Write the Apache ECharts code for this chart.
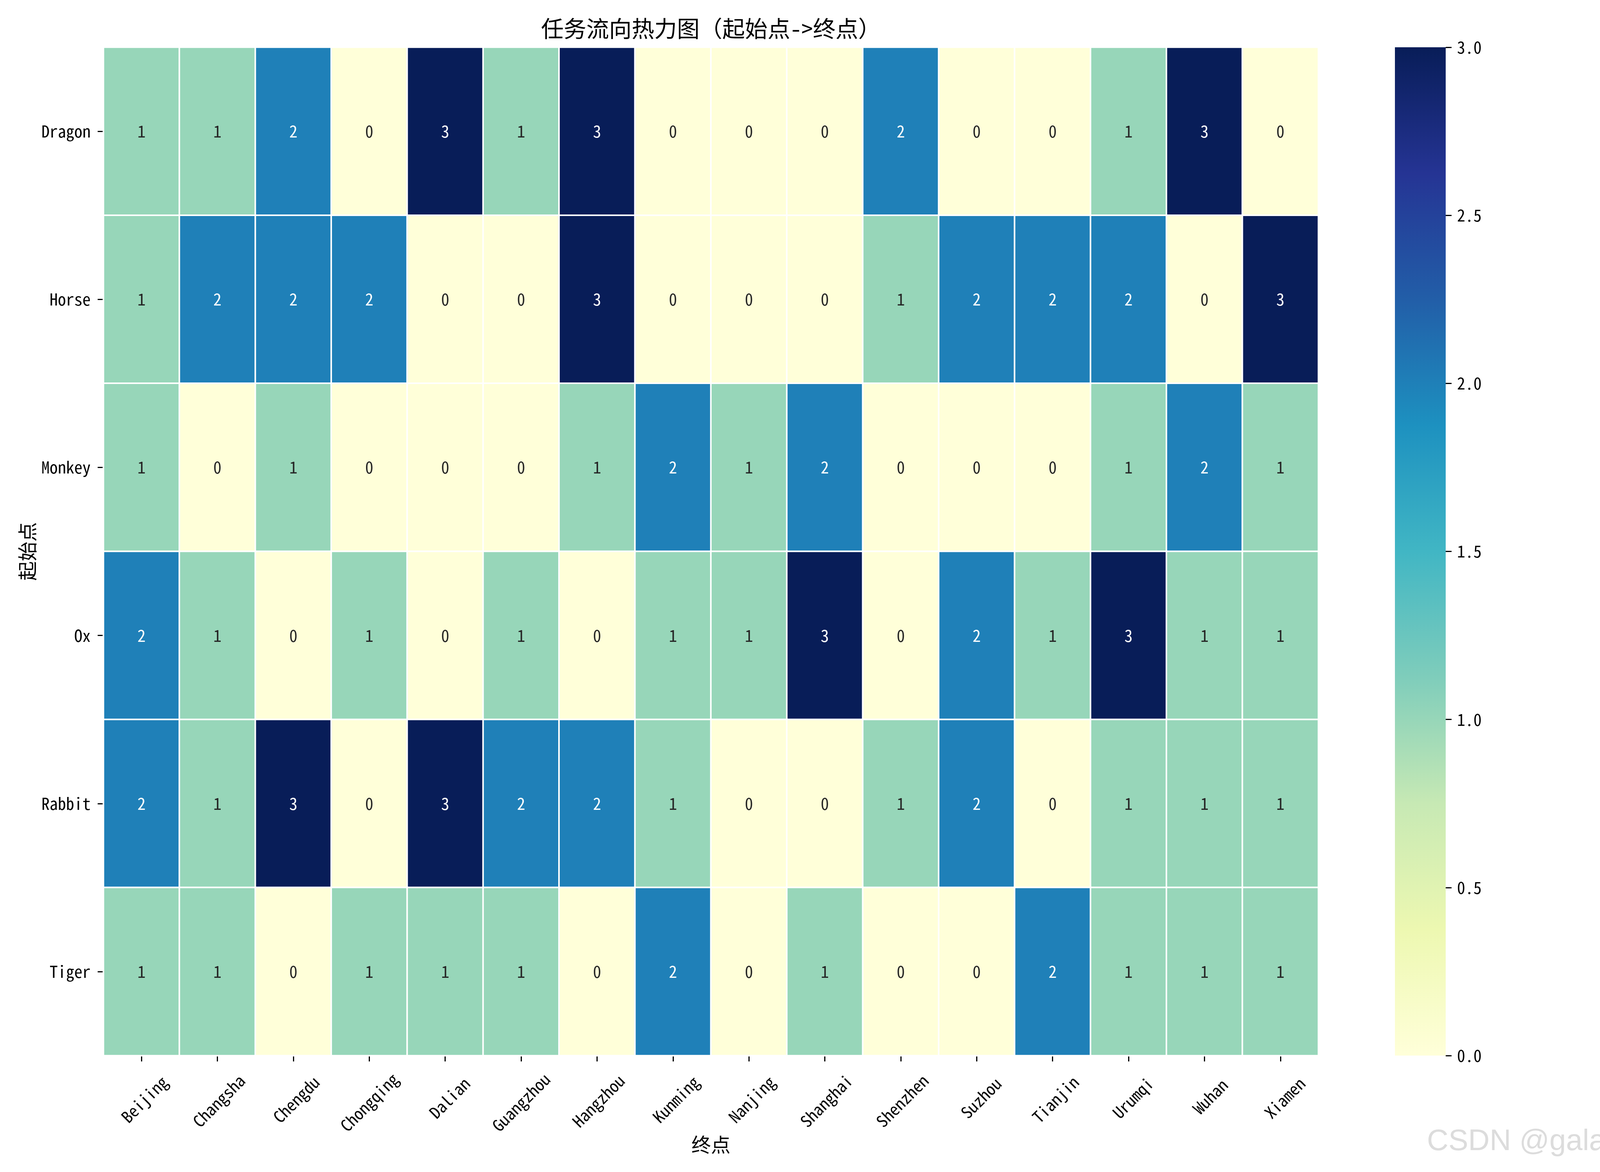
<!DOCTYPE html>
<html><head><meta charset="utf-8">
<script src="https://cdn.jsdelivr.net/npm/echarts@6/dist/echarts.min.js"></script>
<style>html,body{margin:0;padding:0;background:#fff}#c{width:4200px;height:3000px}</style>
</head><body><div id="c"></div>
<script>
// ---- data ----
const destinations = ['Beijing','Changsha','Chengdu','Chongqing','Dalian','Guangzhou','Hangzhou','Kunming','Nanjing','Shanghai','Shenzhen','Suzhou','Tianjin','Urumqi','Wuhan','Xiamen'];
const origins = ['Dragon','Horse','Monkey','Ox','Rabbit','Tiger'];
const rowDragon = [1,1,2,0,3,1,3,0,0,0,2,0,0,1,3,0];
const rowHorse  = [1,2,2,2,0,0,3,0,0,0,1,2,2,2,0,3];
const rowMonkey = [1,0,1,0,0,0,1,2,1,2,0,0,0,1,2,1];
const rowOx     = [2,1,0,1,0,1,0,1,1,3,0,2,1,3,1,1];
const rowRabbit = [2,1,3,0,3,2,2,1,0,0,1,2,0,1,1,1];
const rowTiger  = [1,1,0,1,1,1,0,2,0,1,0,0,2,1,1,1];
const rows = [rowDragon,rowHorse,rowMonkey,rowOx,rowRabbit,rowTiger];
const valueMin = 0, valueMax = 3;
const colorbarInterval = 0.5;
const ylgnbu = ['#ffffd9','#edf8b1','#c7e9b4','#7fcdbb','#41b6c4','#1d91c0','#225ea8','#253494','#081d58'];
const titleText = '任务流向热力图（起始点->终点）';
const xName = '终点';
const yName = '起始点';
const watermark = 'CSDN @galaxy';

// ---- layout / style ----
const FONT = '"Noto Sans Mono CJK SC", "Noto Sans CJK SC", sans-serif';
const G = {left:265, top:121, width:3110, height:2581};
const CB = {left:3571, top:121, width:130, height:2581};
const fs = 42;

const ctx = document.createElement('canvas').getContext('2d');
ctx.font = fs + 'px ' + FONT;
const widths = destinations.map(s => ctx.measureText(s).width);
const maxW = Math.max.apply(null, widths);
const labelTop = 2740;
const xMargin = labelTop + 0.35355 * (maxW + fs) - (G.top + G.height);

const heatData = [];
rows.forEach((row, r) => row.forEach((v, c) => {
  heatData.push({value:[c, r, v], label:{color: v > 1.5 ? '#ffffff' : '#262626'}});
}));

const chart = echarts.init(document.getElementById('c'), null, {renderer:'canvas', width:4200, height:3000, devicePixelRatio:1});
chart.setOption({
  backgroundColor:'#ffffff',
  animation:false,
  textStyle:{fontFamily:FONT},
  title:{
    text:titleText, left:(G.left + G.width/2), top:44, textAlign:'center', padding:0,
    textStyle:{fontSize:58, fontWeight:'normal', color:'#000', fontFamily:FONT, lineHeight:58}
  },
  grid:[
    {left:G.left, top:G.top, width:G.width, height:G.height},
    {left:CB.left, top:CB.top, width:CB.width, height:CB.height}
  ],
  xAxis:[
    {
      type:'category', gridIndex:0,
      data: destinations.map((name, i) => {
        const p = 0.5 * (maxW - widths[i]);
        return {value:name, textStyle:{align:'center', verticalAlign:'middle', padding:[0,0,p,p],
          fontSize:fs, color:'#000', fontFamily:FONT}};
      }),
      boundaryGap:true,
      axisLine:{show:false},
      axisTick:{show:true, alignWithLabel:true, length:15, lineStyle:{color:'#000', width:3}},
      axisLabel:{interval:0, rotate:45, align:'center', verticalAlign:'middle', margin:xMargin, fontSize:fs, color:'#000', fontFamily:FONT},
      splitLine:{show:false},
      name:xName, nameLocation:'middle', nameGap:228, nameMoveOverlap:false,
      nameTextStyle:{fontSize:50, color:'#000', fontFamily:FONT, verticalAlign:'middle', align:'center'}
    },
    {type:'category', gridIndex:1, data:[''], show:false, boundaryGap:true}
  ],
  yAxis:[
    {
      type:'category', gridIndex:0, data:origins, inverse:true, boundaryGap:true,
      axisLine:{show:false},
      axisTick:{show:true, alignWithLabel:true, length:15, lineStyle:{color:'#000', width:3}},
      axisLabel:{interval:0, margin:33, fontSize:fs, color:'#000', fontFamily:FONT},
      splitLine:{show:false},
      name:yName, nameLocation:'middle', nameGap:195, nameMoveOverlap:false,
      nameTextStyle:{fontSize:50, color:'#000', fontFamily:FONT, verticalAlign:'middle', align:'center'}
    },
    {
      type:'value', gridIndex:1, min:valueMin, max:valueMax, interval:colorbarInterval, position:'right',
      axisLine:{show:false},
      axisTick:{show:true, length:15, lineStyle:{color:'#000', width:3}},
      axisLabel:{margin:29, fontSize:fs, color:'#000', fontFamily:FONT, formatter:v => v.toFixed(1)},
      splitLine:{show:false}
    }
  ],
  visualMap:{
    show:false, type:'continuous', min:valueMin, max:valueMax, seriesIndex:0, dimension:2,
    inRange:{color:ylgnbu}
  },
  series:[
    {
      type:'heatmap', xAxisIndex:0, yAxisIndex:0, data:heatData,
      itemStyle:{borderColor:'#ffffff', borderWidth:4},
      label:{show:true, fontSize:fs, fontFamily:FONT, formatter:p => String(p.value[2])},
      emphasis:{disabled:true}, silent:true
    },
    {
      type:'bar', xAxisIndex:1, yAxisIndex:1, data:[valueMax], barWidth:'100%', silent:true,
      itemStyle:{color:{type:'linear', x:0, y:1, x2:0, y2:0,
        colorStops: ylgnbu.map((c, i) => ({offset:i/(ylgnbu.length-1), color:c}))}}
    }
  ],
  graphic:[
    {type:'text', left:3653, top:2885, silent:true,
     style:{text:watermark, font:'76px "Liberation Sans", sans-serif', fill:'#dcdcdc'}}
  ]
});
</script>
</body></html>
